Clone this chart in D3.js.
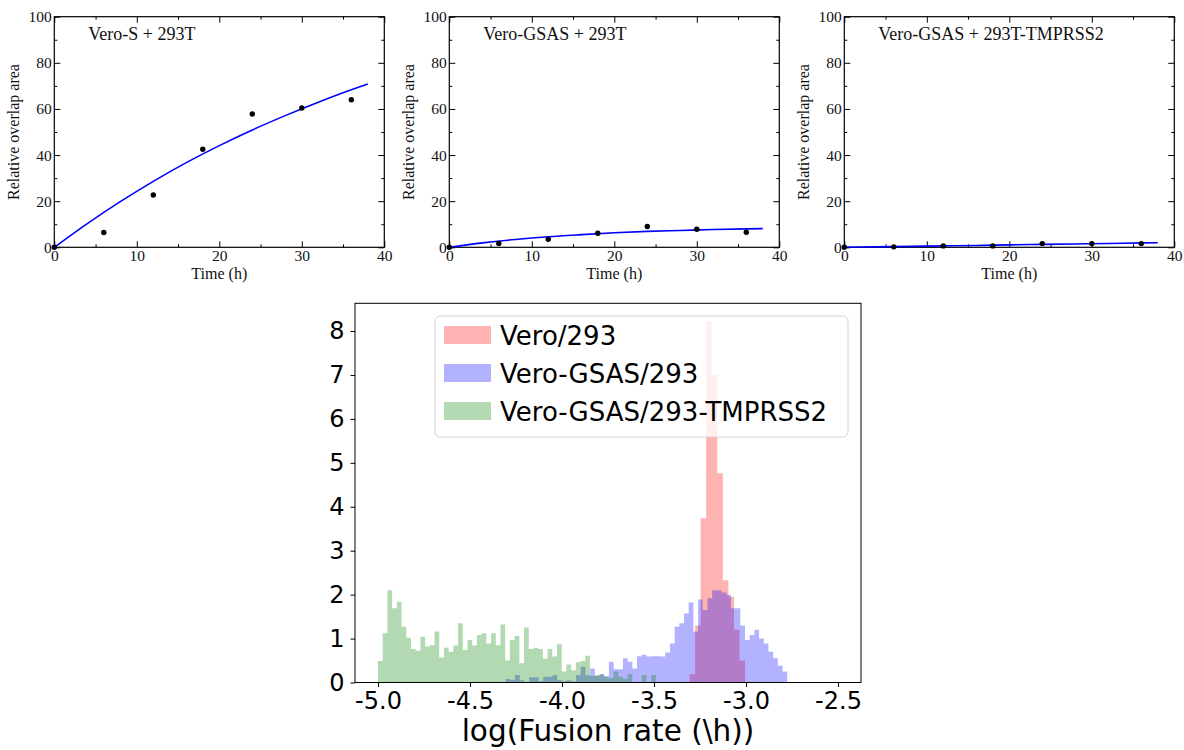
<!DOCTYPE html>
<html>
<head>
<meta charset="utf-8">
<script src="https://cdn.jsdelivr.net/npm/d3@7"></script>
<style>
  body { margin: 0; background: #fff; }
  svg { display: block; }
</style>
</head>
<body>
<div id="canvas"></div>
<script>
// ---- top row: overlap area vs time ----
const timePoints = [0, 6, 12, 18, 24, 30, 36];
const overlapVeroS = [0, 6.4, 22.7, 42.5, 57.8, 60.4, 64.0];
const overlapGSAS = [0, 1.7, 3.5, 6.1, 9.0, 7.8, 6.5];
const overlapTMPRSS2 = [0, 0.2, 0.6, 0.6, 1.6, 1.6, 1.6];

const fitTimes = [0, 4, 8, 12, 16, 20, 24, 28, 32, 36, 38];
const fitVeroS = [0, 10.3, 19.8, 28.6, 36.7, 44.1, 50.9, 57.1, 62.9, 68.3, 70.8];
const fitGSAS = [0, 1.9, 3.4, 4.6, 5.5, 6.3, 6.9, 7.3, 7.7, 8.0, 8.1];
const fitTMPRSS2 = [0, 0.2, 0.4, 0.6, 0.8, 1.05, 1.25, 1.45, 1.65, 1.9, 2.0];

const panelTitles = ["Vero-S + 293T", "Vero-GSAS + 293T", "Vero-GSAS + 293T-TMPRSS2"];
const timeTicks = [0, 10, 20, 30, 40];
const timeMinor = [5, 15, 25, 35];
const areaTicks = [0, 20, 40, 60, 80, 100];
const areaMinor = [10, 30, 50, 70, 90];

// ---- bottom: histogram of log fusion rate ----
const seriesNames = ["Vero/293", "Vero-GSAS/293", "Vero-GSAS/293-TMPRSS2"];
const seriesColors = ["red", "blue", "green"];

const redStart = -3.307, redBin = 0.0302;
const redHeights = [0.19, 1.3, 3.74, 8.22, 7.0, 4.76, 2.33, 1.95, 1.2, 0.5];

const blueStart = -4.306, blueBin = 0.0255;
const blueHeights = [
  0.08, 0.06, 0.17, 0.05, 0.0, 0.12, 0.12, 0.03, 0.13, 0.13,
  0.17, 0.05, 0.03, 0.05, 0.02, 0.17, 0.36, 0.17, 0.32, 0.15,
  0.19, 0.15, 0.47, 0.30, 0.30, 0.55, 0.47, 0.32, 0.60, 0.63,
  0.59, 0.60, 0.60, 0.59, 0.68, 0.89, 1.27, 1.35, 1.57, 1.82,
  1.16, 1.89, 1.65, 1.92, 2.1, 2.1, 2.05, 2.0, 1.69, 1.69,
  1.3, 0.97, 1.08, 1.2, 1.0, 0.89, 0.70, 0.55, 0.38, 0.25
];

const greenStart = -5.0, greenBin = 0.0256;
const greenHeights = [
  0.49, 1.12, 2.10, 1.69, 1.84, 1.27, 1.02, 0.76, 0.72, 1.04,
  0.82, 0.85, 1.16, 0.57, 0.79, 0.70, 0.84, 1.35, 0.74, 0.97,
  0.84, 1.08, 1.12, 0.89, 1.12, 0.85, 1.32, 0.5, 0.97, 1.06,
  0.44, 1.25, 0.76, 0.79, 0.76, 0.54, 0.76, 0.59, 0.87, 0.25,
  0.41, 0.28, 0.46, 0.49, 0.61, 0.15, 0.17, 0.19, 0.12, 0.1,
  0.25, 0.13, 0.08, 0.19, 0, 0, 0.17, 0, 0.17
];

const rateTicks = [-5.0, -4.5, -4.0, -3.5, -3.0, -2.5];
const rateTickLabels = ["-5.0", "-4.5", "-4.0", "-3.5", "-3.0", "-2.5"];
const densityTicks = [0, 1, 2, 3, 4, 5, 6, 7, 8];

const width = 1184, height = 750;
const svg = d3.select("#canvas").append("svg")
  .attr("width", width)
  .attr("height", height);

// ================= top panels =================
const serif = "'Liberation Serif', 'Times New Roman', serif";
const panelLefts = [54.3, 449.3, 844.3];
const pw = 330, ptop = 16.7, pbottom = 247.3;
const dotSets = [overlapVeroS, overlapGSAS, overlapTMPRSS2];
const fitSets = [fitVeroS, fitGSAS, fitTMPRSS2];

panelTitles.forEach((title, i) => {
  const g = svg.append("g").attr("transform", `translate(${panelLefts[i]},0)`);
  const x = d3.scaleLinear().domain([0, 40]).range([0, pw]);
  const y = d3.scaleLinear().domain([0, 100]).range([pbottom, ptop]);

  function styleAxis(a) {
    a.select(".domain").remove();
    a.selectAll("line").attr("stroke", "#000").attr("stroke-width", 1);
    a.selectAll("text").attr("font-family", serif).attr("font-size", 15.5).attr("fill", "#111");
  }

  // major + minor ticks on all four sides, pointing inward
  g.append("g").attr("transform", `translate(0,${pbottom})`)
    .call(d3.axisBottom(x).tickValues(timeTicks).tickSize(-6).tickPadding(2.5))
    .call(styleAxis);
  g.append("g").attr("transform", `translate(0,${pbottom})`)
    .call(d3.axisBottom(x).tickValues(timeMinor).tickSize(-3).tickFormat(""))
    .call(styleAxis);
  g.append("g").attr("transform", `translate(0,${ptop})`)
    .call(d3.axisTop(x).tickValues(timeTicks).tickSize(-6).tickFormat(""))
    .call(styleAxis);
  g.append("g").attr("transform", `translate(0,${ptop})`)
    .call(d3.axisTop(x).tickValues(timeMinor).tickSize(-3).tickFormat(""))
    .call(styleAxis);
  g.append("g")
    .call(d3.axisLeft(y).tickValues(areaTicks).tickSize(-6).tickPadding(2.5))
    .call(styleAxis);
  g.append("g")
    .call(d3.axisLeft(y).tickValues(areaMinor).tickSize(-3).tickFormat(""))
    .call(styleAxis);
  g.append("g").attr("transform", `translate(${pw},0)`)
    .call(d3.axisRight(y).tickValues(areaTicks).tickSize(-6).tickFormat(""))
    .call(styleAxis);
  g.append("g").attr("transform", `translate(${pw},0)`)
    .call(d3.axisRight(y).tickValues(areaMinor).tickSize(-3).tickFormat(""))
    .call(styleAxis);

  g.append("rect")
    .attr("x", 0).attr("y", ptop)
    .attr("width", pw).attr("height", pbottom - ptop)
    .attr("fill", "none").attr("stroke", "#000").attr("stroke-width", 1.2);

  const fit = fitTimes.map((t, k) => [t, fitSets[i][k]]);
  g.append("path")
    .datum(fit)
    .attr("fill", "none")
    .attr("stroke", "#0000ff")
    .attr("stroke-width", 1.6)
    .attr("d", d3.line().x(d => x(d[0])).y(d => y(d[1])).curve(d3.curveMonotoneX));

  g.selectAll("circle.pt")
    .data(timePoints.map((t, k) => [t, dotSets[i][k]]))
    .enter().append("circle")
    .attr("class", "pt")
    .attr("cx", d => x(d[0]))
    .attr("cy", d => y(d[1]))
    .attr("r", 2.7)
    .attr("fill", "#000");

  g.append("text")
    .attr("x", 34).attr("y", 39.5)
    .attr("font-family", serif).attr("font-size", 18)
    .attr("fill", "#111")
    .text(title);

  g.append("text")
    .attr("x", pw / 2).attr("y", 278.5)
    .attr("text-anchor", "middle")
    .attr("font-family", serif).attr("font-size", 16)
    .attr("fill", "#111")
    .text("Time (h)");

  g.append("text")
    .attr("transform", `translate(-35,${(ptop + pbottom) / 2}) rotate(-90)`)
    .attr("text-anchor", "middle")
    .attr("font-family", serif).attr("font-size", 16)
    .attr("fill", "#111")
    .text("Relative overlap area");
});

// ================= histogram =================
const sans = "'DejaVu Sans', sans-serif";
const hx = d3.scaleLinear().domain([-5.125, -2.375]).range([355, 861]);
const hy = d3.scaleLinear().domain([0, 8.631]).range([682.5, 303.3]);

const hg = svg.append("g");

function steps(start, bin, heights) {
  const pts = heights.map((h, i) => ({ x: start + i * bin, h: h }));
  pts.push({ x: start + heights.length * bin, h: heights[heights.length - 1] });
  return pts;
}

const histArea = d3.area()
  .x(d => hx(d.x))
  .y0(hy(0))
  .y1(d => hy(d.h))
  .curve(d3.curveStepAfter);

const histSeries = [
  steps(redStart, redBin, redHeights),
  steps(blueStart, blueBin, blueHeights),
  steps(greenStart, greenBin, greenHeights)
];

histSeries.forEach((pts, i) => {
  hg.append("path")
    .datum(pts)
    .attr("fill", seriesColors[i])
    .attr("fill-opacity", 0.3)
    .attr("d", histArea);
});

// axes
const xAxisG = hg.append("g").attr("transform", `translate(0,${hy(0)})`)
  .call(d3.axisBottom(hx).tickValues(rateTicks).tickFormat((d, i) => rateTickLabels[i])
    .tickSize(4.5).tickPadding(5));
const yAxisG = hg.append("g").attr("transform", `translate(${hx.range()[0]},0)`)
  .call(d3.axisLeft(hy).tickValues(densityTicks).tickFormat(d3.format("d"))
    .tickSize(4.5).tickPadding(6));
[xAxisG, yAxisG].forEach(a => {
  a.select(".domain").remove();
  a.selectAll("line").attr("stroke", "#000").attr("stroke-width", 1);
  a.selectAll("text").attr("font-family", sans).attr("font-size", 24).attr("fill", "#000");
});

hg.append("rect")
  .attr("x", hx.range()[0]).attr("y", hy.range()[1])
  .attr("width", hx.range()[1] - hx.range()[0])
  .attr("height", hy.range()[0] - hy.range()[1])
  .attr("fill", "none").attr("stroke", "#000").attr("stroke-width", 1);

hg.append("text")
  .attr("x", (hx.range()[0] + hx.range()[1]) / 2)
  .attr("y", 741)
  .attr("text-anchor", "middle")
  .attr("font-family", sans).attr("font-size", 29.5)
  .attr("fill", "#000")
  .text("log(Fusion rate (\\h))");

// legend
const lg = hg.append("g").attr("transform", "translate(435,316)");
lg.append("rect")
  .attr("width", 413).attr("height", 121)
  .attr("rx", 5).attr("ry", 5)
  .attr("fill", "#fff").attr("fill-opacity", 0.8)
  .attr("stroke", "#d4d4d4").attr("stroke-width", 1);

seriesNames.forEach((name, i) => {
  const cy = 19 + i * 38;
  lg.append("rect")
    .attr("x", 9).attr("y", cy - 9)
    .attr("width", 47).attr("height", 18)
    .attr("fill", seriesColors[i]).attr("fill-opacity", 0.3);
  lg.append("text")
    .attr("x", 65).attr("y", cy + 9.5)
    .attr("font-family", sans).attr("font-size", 26)
    .attr("fill", "#000")
    .text(name);
});
</script>
</body>
</html>
